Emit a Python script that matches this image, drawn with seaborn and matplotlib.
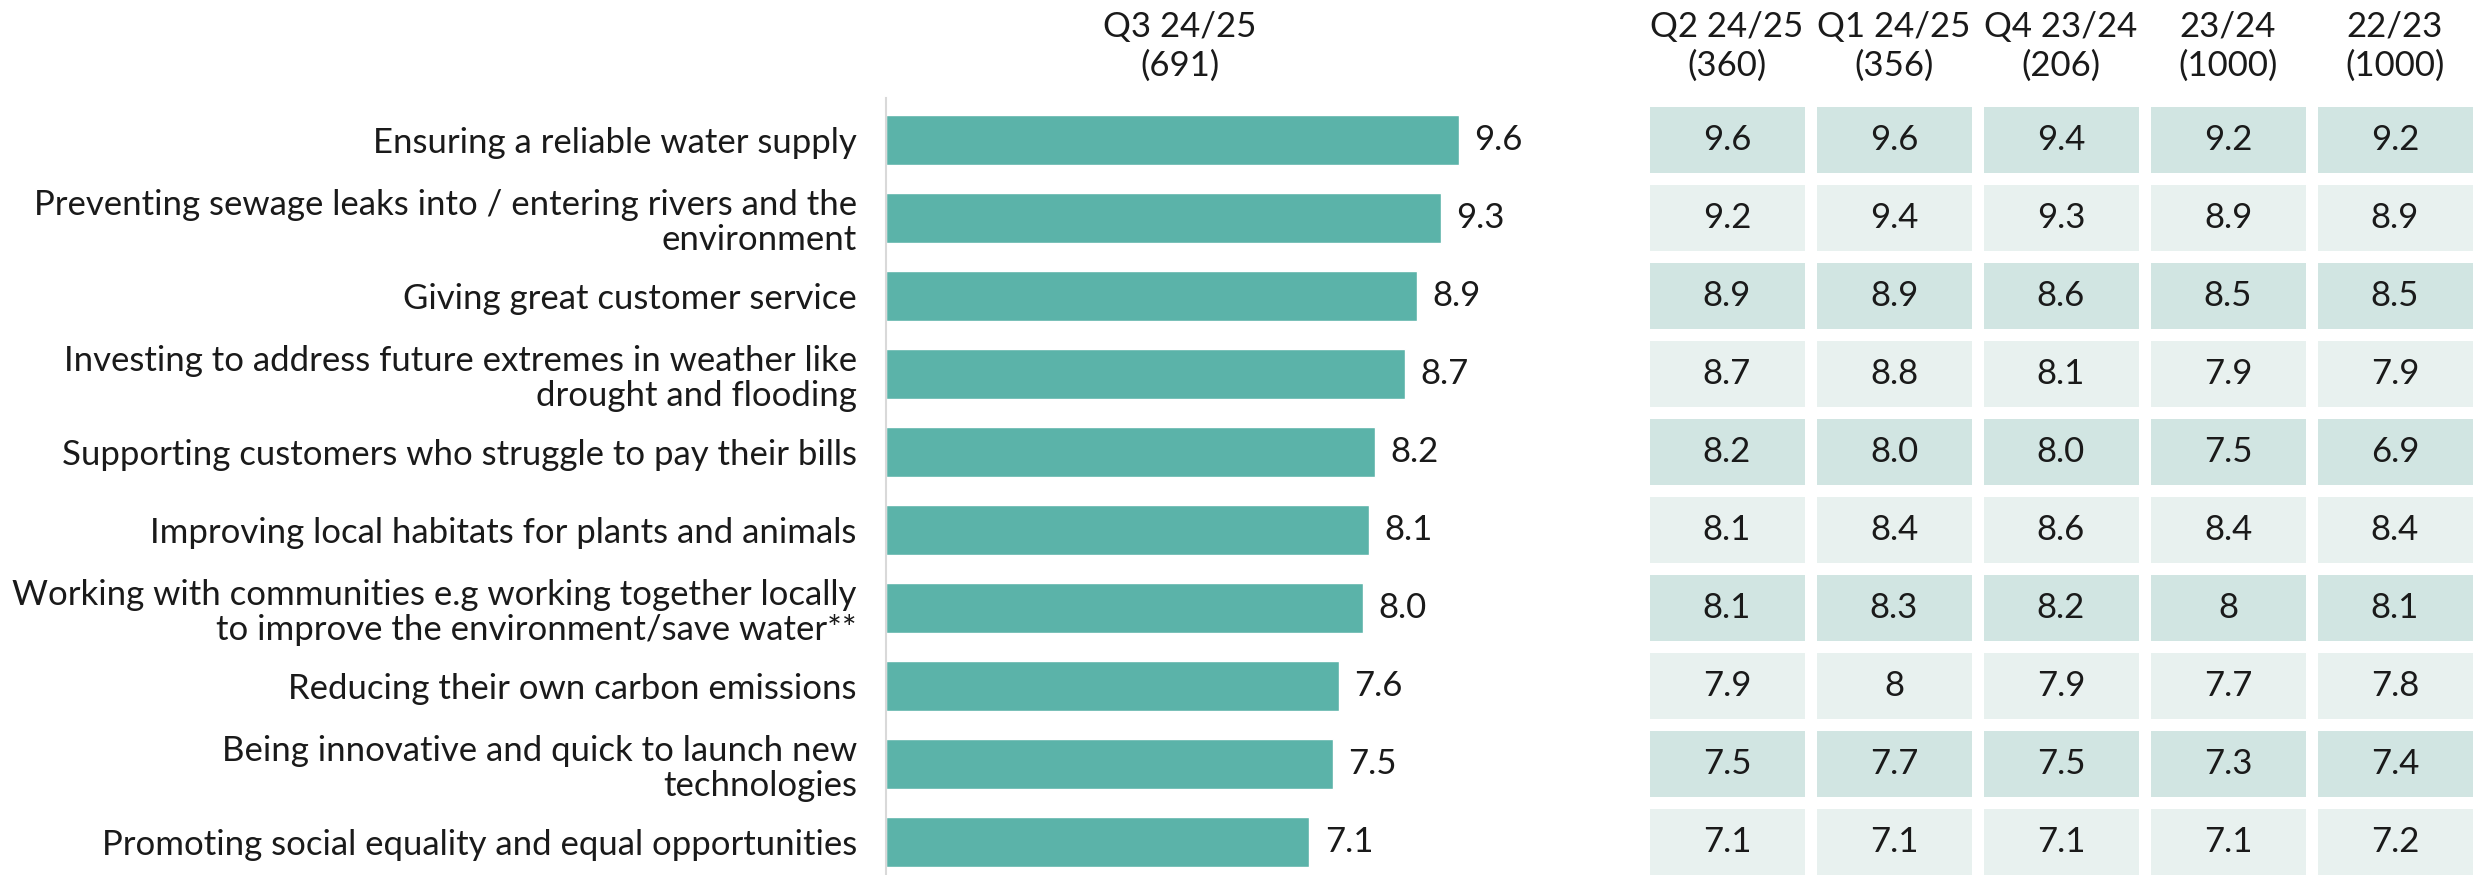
import numpy as np
import pandas as pd
import matplotlib
matplotlib.use("Agg")
import matplotlib.pyplot as plt
from matplotlib.colors import ListedColormap
from matplotlib.transforms import blended_transform_factory
import seaborn as sns

# ---------------- data ----------------
categories = [
    "Ensuring a reliable water supply",
    "Preventing sewage leaks into / entering rivers and the\nenvironment",
    "Giving great customer service",
    "Investing to address future extremes in weather like\ndrought and flooding",
    "Supporting customers who struggle to pay their bills",
    "Improving local habitats for plants and animals",
    "Working with communities e.g working together locally\nto improve the environment/save water**",
    "Reducing their own carbon emissions",
    "Being innovative and quick to launch new\ntechnologies",
    "Promoting social equality and equal opportunities",
]
q3_2425 = [9.6, 9.3, 8.9, 8.7, 8.2, 8.1, 8.0, 7.6, 7.5, 7.1]
q3_header = "Q3 24/25\n(691)"

table_headers = ["Q2 24/25\n(360)", "Q1 24/25\n(356)", "Q4 23/24\n(206)", "23/24\n(1000)", "22/23\n(1000)"]
q2_2425 = ["9.6", "9.2", "8.9", "8.7", "8.2", "8.1", "8.1", "7.9", "7.5", "7.1"]
q1_2425 = ["9.6", "9.4", "8.9", "8.8", "8.0", "8.4", "8.3", "8", "7.7", "7.1"]
q4_2324 = ["9.4", "9.3", "8.6", "8.1", "8.0", "8.6", "8.2", "7.9", "7.5", "7.1"]
fy_2324 = ["9.2", "8.9", "8.5", "7.9", "7.5", "8.4", "8", "7.7", "7.3", "7.1"]
fy_2223 = ["9.2", "8.9", "8.5", "7.9", "6.9", "8.4", "8.1", "7.8", "7.4", "7.2"]

# ---------------- style ----------------
sns.set_theme(style="white")
plt.rcParams["font.family"] = ["Lato", "DejaVu Sans"]

BAR = "#5BB3A9"
DARK = "#D1E5E2"
LIGHT = "#E8F1EF"
TXT = "#1a1a1a"
FS = 25

W, H = 2473, 875
fig = plt.figure(figsize=(W / 100, H / 100), dpi=100)

# ---------------- bar chart ----------------
ax = fig.add_axes([886 / W, 0, 656 / W, (H - 98) / H])
df = pd.DataFrame({"cat": categories, "val": q3_2425})
sns.barplot(data=df, x="val", y="cat", color=BAR, width=0.63, saturation=1, ax=ax)
ax.set_xlim(0, 11)
ax.set_ylim(9.423, -0.538)
ax.set_xlabel("")
ax.set_ylabel("")
ax.set_xticks([])
ax.tick_params(axis="y", length=0, pad=21, labelsize=FS, colors=TXT)
for lab in ax.get_yticklabels():
    lab.set_linespacing(1.1)
for s in ["top", "right", "bottom"]:
    ax.spines[s].set_visible(False)
ax.spines["left"].set_color("#D9D9D9")
ax.spines["left"].set_linewidth(1.5)
for cont in ax.containers:
    ax.bar_label(cont, labels=[f"{v:.1f}" for v in q3_2425], padding=11,
                 fontsize=FS, color=TXT)
fig.text(1180 / W, 1 - 46 / H, q3_header, ha="center", va="center",
         fontsize=FS, color=TXT, linespacing=1.25)

# ---------------- table ----------------
tax = fig.add_axes([1643.5 / W, 0, 835 / W, (H - 98) / H])
labels = np.array([q2_2425, q1_2425, q4_2324, fy_2324, fy_2223]).T
parity = np.array([[i % 2] * len(table_headers) for i in range(len(categories))])
sns.heatmap(parity, cmap=ListedColormap([DARK, LIGHT]), vmin=0, vmax=1,
            annot=labels, fmt="", cbar=False, linewidths=8.3, linecolor="white",
            annot_kws={"fontsize": FS, "color": TXT}, ax=tax)
tax.set_xlim(0, 5)
tax.set_ylim(9.923, -0.038)
tax.set_xticks([])
tax.set_yticks([])
for s in tax.spines.values():
    s.set_visible(False)
tr = blended_transform_factory(tax.transData, fig.transFigure)
for i, h in enumerate(table_headers):
    tax.text(i + 0.5, 1 - 46 / H, h, transform=tr, ha="center", va="center",
             fontsize=FS, color=TXT, linespacing=1.25, clip_on=False)

fig.savefig("out.png", dpi=100)
